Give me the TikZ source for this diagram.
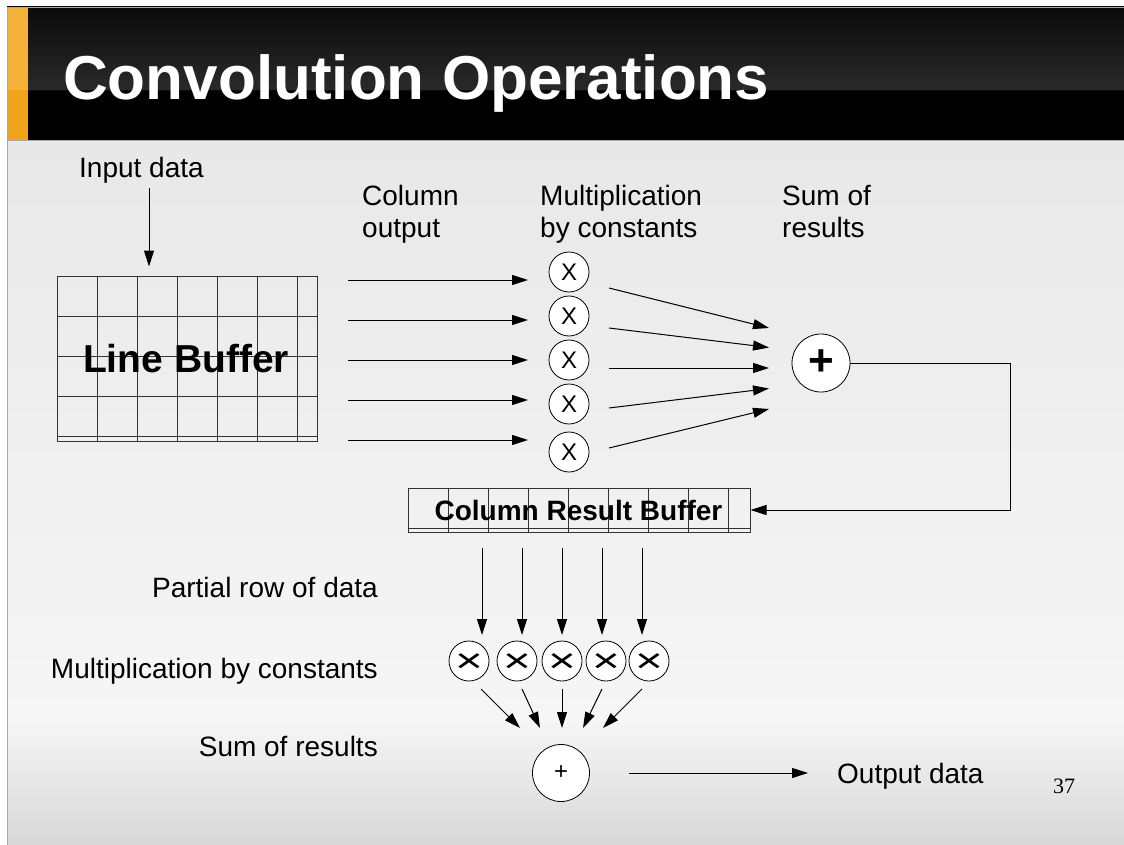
\documentclass[tikz,border=0pt]{standalone}
\usepackage{fontspec}
\setmainfont{Liberation Sans}
\newfontfamily\seriffont{Liberation Serif}
\usetikzlibrary{arrows.meta}
\definecolor{bodytop}{HTML}{E8E8E8}
\definecolor{bodymid}{HTML}{F6F6F6}
\definecolor{bodybot}{HTML}{D8D8D8}
\definecolor{hdtop}{HTML}{0A0A0A}
\definecolor{hdmid}{HTML}{2A2A2A}
\definecolor{orangeA}{HTML}{F4B23A}
\definecolor{orangeB}{HTML}{F0A41A}
\definecolor{gridcol}{HTML}{333333}
\definecolor{bordercol}{HTML}{A8A8A8}
\begin{document}
\begin{tikzpicture}[x=1pt,y=-1pt,
  arr/.style={-{Triangle[length=16pt,width=10pt]}, line width=1pt, black},
  lbl/.style={inner sep=0, font=\fontsize{28}{32}\selectfont},
  gridline/.style={draw=gridcol, line width=1pt},
  mulc/.style={circle, draw=black, fill=white, line width=0.8pt, minimum size=40pt, inner sep=0, font=\fontsize{24}{24}\selectfont},
  mulx/.style={circle, draw=black, fill=white, line width=0.8pt, minimum size=40pt, inner sep=0, text height=23pt, text depth=0pt, font=\fontsize{34}{34}\selectfont},
  sumc/.style={circle, draw=black, fill=white, line width=0.8pt, inner sep=0}
]
\useasboundingbox (0,0) rectangle (1124,845);
\fill[white] (0,0) rectangle (1124,845);
% body background
\shade[top color=bodytop, bottom color=bodymid] (7,140) rectangle (1124,720);
\shade[top color=bodymid, bottom color=bodybot] (7,719.5) rectangle (1124,845);
% header
\shade[top color=hdtop, bottom color=hdmid] (7,7) rectangle (1124,90);
\fill[black] (7,90) rectangle (1124,140);
\draw[line width=1pt, color=hdtop] (7,90.5) -- (1124,90.5);
\fill[orangeA] (8,8) rectangle (28,90);
\fill[orangeB] (8,90) rectangle (28,140);
\draw[bordercol, line width=1pt] (7.5,845) -- (7.5,7.5) -- (1124,7.5);
\draw[bordercol, line width=1pt] (7.5,140.5) -- (1124,140.5);
\node[anchor=base west, inner sep=0, text=white, font=\bfseries\fontsize{62}{62}\selectfont] (title) at (63,100) {Convolution Operations};

% labels
\node[lbl, anchor=base west] (inlbl) at (79,178) {Input data};
\node[lbl, anchor=base west, align=left] (colout) at (362,237) {Column\\output};
\node[lbl, anchor=base west, align=left] (mullbl) at (540,237) {Multiplication\\by constants};
\node[lbl, anchor=base west, align=left] (sumlbl) at (782,237) {Sum of\\results};
\node[lbl, anchor=base east] (partlbl) at (378,597) {Partial row of data};
\node[lbl, anchor=base east] (mul2lbl) at (378,678) {Multiplication by constants};
\node[lbl, anchor=base east] (sum2lbl) at (378,756) {Sum of results};
\node[lbl, anchor=base west] (outlbl) at (837,783) {Output data};
\node[anchor=base west, inner sep=0, font=\seriffont\fontsize{22}{22}\selectfont] (pagenum) at (1053,793) {37};

% line buffer
\node[draw=gridcol, line width=1pt, minimum width=260pt, minimum height=165pt, inner sep=0] (lb) at (187,358.5) {};
\foreach \x in {97,137,177,217,257,297} \draw[gridline] (\x,276) -- (\x,441);
\foreach \y in {316,356,396,436} \draw[gridline] (57,\y) -- (317,\y);
\node[anchor=base, inner sep=0, font=\bfseries\fontsize{39}{39}\selectfont] (lbtext) at (186,372) {Line Buffer};

% input arrow
\coordinate (in0) at (149,188);
\draw[arr, shorten >=9pt] (in0) -- (in0 |- lb.north);

% column outputs
\foreach \i/\y in {1/280,2/320,3/360,4/400,5/440} {
  \coordinate (hs\i) at (348,\y);
  \coordinate (he\i) at (528,\y);
  \draw[arr] (hs\i) -- (he\i);
}
\foreach \i/\y in {1/272,2/316,3/360,4/404,5/452}
  \node[mulc] (m\i) at (569,\y) {X};

% first sum
\node[sumc, minimum size=58pt, font=\bfseries\fontsize{44}{44}\selectfont] (sum1) at (821,363) {+};
\foreach \i/\ys/\ye in {1/288/328,2/328/347.5,3/368/368,4/408/388.5,5/448/409} {
  \coordinate (ds\i) at (609,\ys);
  \coordinate (de\i) at (769,\ye);
  \draw[arr] (ds\i) -- (de\i);
}

% column result buffer
\node[draw=gridcol, line width=1pt, minimum width=342pt, minimum height=44pt, inner sep=0] (crb) at (579,510) {};
\foreach \x in {448,488,528,568,608,648,688,728} \draw[gridline] (\x,488) -- (\x,532);
\draw[gridline] (408,528) -- (750,528);
\node[anchor=base, inner sep=0, font=\bfseries\fontsize{28}{28}\selectfont] (crbtext) at (578.5,520) {Column Result Buffer};

% feedback
\coordinate (fbc) at (1010,440);
\draw[arr] (sum1.east) -| (fbc) |- (crb.east);

% partial row arrows
\foreach \i/\x in {1/482,2/522,3/562,4/602,5/642} {
  \coordinate (vs\i) at (\x,548);
  \coordinate (ve\i) at (\x,635);
  \draw[arr] (vs\i) -- (ve\i);
}
\foreach \i/\x in {1/469,2/517,3/562,4/606,5/649}
  \node[mulx] (n\i) at (\x,661) {\scalebox{1.4}[1]{×}};

% second sum
\node[sumc, minimum size=57pt, font=\fontsize{24}{24}\selectfont] (sum2) at (561,773) {+};
\foreach \i/\xs/\xe in {1/481/520,2/522/540,3/562/562,4/602/583,5/642/603} {
  \coordinate (cs\i) at (\xs,689);
  \coordinate (ce\i) at (\xe,728);
  \draw[arr] (cs\i) -- (ce\i);
}

% output
\coordinate (os) at (629,773);
\coordinate (oe) at (808,773);
\draw[arr] (os) -- (oe);
\end{tikzpicture}
\end{document}
